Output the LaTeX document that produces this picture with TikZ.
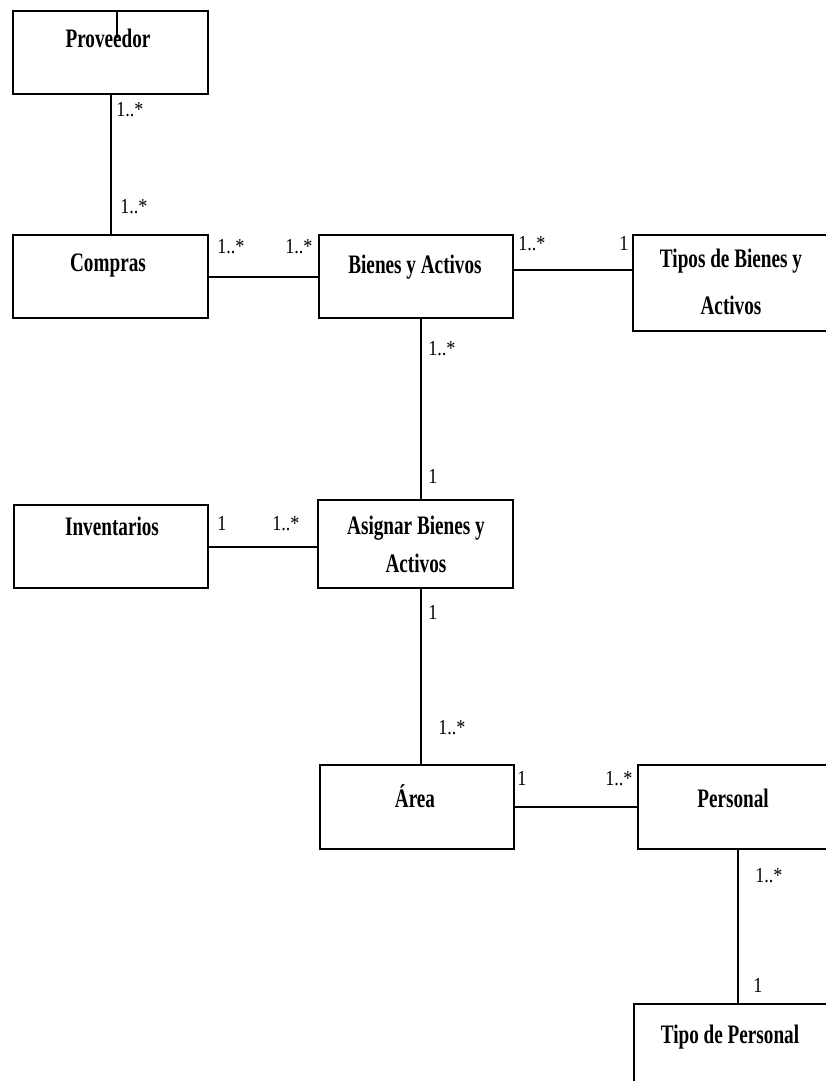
\documentclass[tikz,border=0pt]{standalone}
\usepackage{fontspec}
\newfontfamily\boxfont{Liberation Serif}[FakeStretch=0.72]
\newfontfamily\multfont{Liberation Serif}[FakeStretch=0.85]
\usetikzlibrary{calc}

\begin{document}
\begin{tikzpicture}[x=0.75pt,y=-0.75pt,
  entity/.style={draw, line width=1.5pt, inner sep=0pt, anchor=north west,
    minimum width=146.25pt},
  ename/.style={inner sep=0pt, anchor=base,
    font=\boxfont\bfseries\fontsize{20}{24}\selectfont},
  ename2/.style={inner sep=0pt, anchor=north, align=center},
  mult/.style={inner sep=0pt, anchor=base west,
    font=\multfont\fontsize{16}{16}\selectfont},
  assoc/.style={line width=1.5pt}]

% page
\fill[white] (0,0) rectangle (825,1081);
\useasboundingbox (0,0) rectangle (825,1081);

% classes
\node[entity, minimum height=62.25pt] (prov) at (12,10)  {};
\node[entity, minimum height=62.25pt] (comp) at (12,234) {};
\node[entity, minimum height=62.25pt, minimum width=145.5pt] (bien) at (318,234) {};
\node[entity, minimum height=72pt]    (tipo) at (632,234) {};
\node[entity, minimum height=62.25pt, minimum width=145.5pt] (inv) at (13,504) {};
\node[entity, minimum height=66pt]    (asig) at (317,499) {};
\node[entity, minimum height=63pt, minimum width=145.5pt] (area) at (319,764) {};
\node[entity, minimum height=63pt]    (pers) at (637,764) {};
\node[entity, minimum height=63pt]    (tper) at (633,1003) {};

% class names
\node[ename] (prov-t) at (108,48)  {Proveedor};
\node[ename] (comp-t) at (108,271) {Compras};
\node[ename] (bien-t) at (415,273) {Bienes y Activos};
\node[ename2, font=\boxfont\bfseries\fontsize{20}{35}\selectfont] (tipo-t) at (731,249) {Tipos de Bienes y\\Activos};
\node[ename] (inv-t)  at (112,535) {Inventarios};
\node[ename2, font=\boxfont\bfseries\fontsize{20}{28.5}\selectfont] (asig-t) at (416,516) {Asignar Bienes y\\Activos};
\node[ename] (area-t) at (415,807) {Área};
\node[ename] (pers-t) at (733,807) {Personal};
\node[ename] (tper-t) at (730,1043) {Tipo de Personal};

% associations
\coordinate (tick) at ($(prov.north)+(6.5,0)$);
\draw[assoc] (tick) -- ++(0,28);
\draw[assoc] (prov.south) -- (comp.north);
\draw[assoc] (comp.east) -- (bien.west);
\coordinate (bt) at ($(bien.east)+(0,-6.5)$);
\draw[assoc] (bt) -- (bt -| tipo.west);
\coordinate (ba) at ($(bien.south)+(5,0)$);
\draw[assoc] (ba) -- (ba |- asig.north);
\draw[assoc] (inv.east) -- (inv.east -| asig.west);
\coordinate (aa) at ($(asig.south)+(5.5,0)$);
\draw[assoc] (aa) -- (aa |- area.north);
\draw[assoc] (area.east) -- (area.east -| pers.west);
\coordinate (pt) at ($(pers.south)+(2.5,0)$);
\draw[assoc] (pt) -- (pt |- tper.north);

% multiplicities
\node[mult] (m1)  at (116,116) {1..*};
\node[mult] (m2)  at (120,213) {1..*};
\node[mult] (m3)  at (217,253) {1..*};
\node[mult] (m4)  at (285,253) {1..*};
\node[mult] (m5)  at (518,250) {1..*};
\node[mult] (m6)  at (619,250) {1};
\node[mult] (m7)  at (428,355) {1..*};
\node[mult] (m8)  at (428,483) {1};
\node[mult] (m9)  at (217,530) {1};
\node[mult] (m10) at (272,530) {1..*};
\node[mult] (m11) at (428,619) {1};
\node[mult] (m12) at (438,734) {1..*};
\node[mult] (m13) at (517,785) {1};
\node[mult] (m14) at (605,785) {1..*};
\node[mult] (m15) at (755,882) {1..*};
\node[mult] (m16) at (753,992) {1};
\end{tikzpicture}
\end{document}
